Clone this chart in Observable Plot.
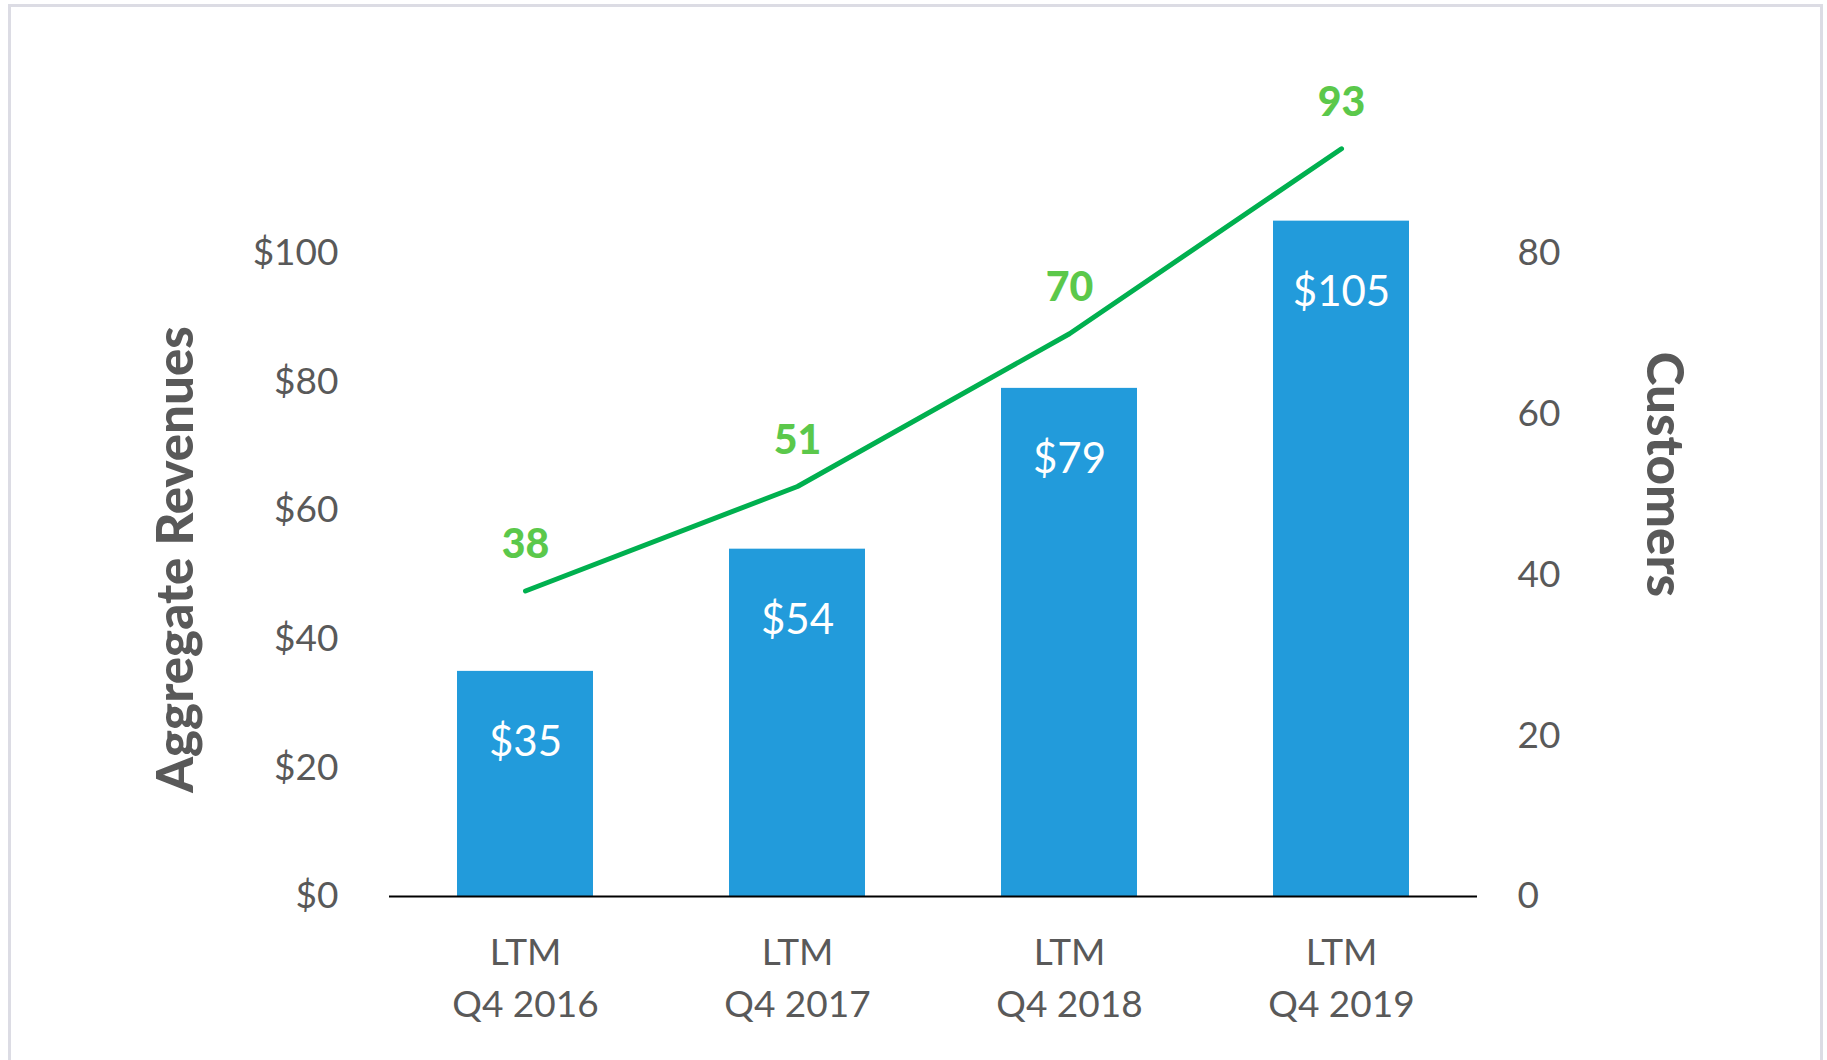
<!DOCTYPE html>
<html>
<head>
<meta charset="utf-8">
<script src="https://cdn.jsdelivr.net/npm/d3@7"></script>
<script src="https://cdn.jsdelivr.net/npm/@observablehq/plot@0.6"></script>
<style>
  html, body { margin: 0; padding: 0; background: #fff; overflow: hidden; }
  #wrap { position: relative; width: 1827px; height: 1060px; }
  #frame { position: absolute; left: 8px; top: 4px; width: 1815px; height: 1100px;
           border: 3px solid #dcdce4; box-sizing: border-box; pointer-events: none; }
  svg { display: block; }
</style>
</head>
<body>
<div id="wrap"><div id="chart"></div><div id="frame"></div></div>
<script>
const periods = ["Q4 2016", "Q4 2017", "Q4 2018", "Q4 2019"];
const periodPrefix = "LTM";
const revenues = [35, 54, 79, 105];
const customers = [38, 51, 70, 93];
const revenueTicks = [0, 20, 40, 60, 80, 100];
const customerTicks = [0, 20, 40, 60, 80];
const leftTitle = "Aggregate Revenues";
const rightTitle = "Customers";

// left axis max ($125) corresponds to right axis max (100 customers)
const revenueMax = 125, customerMax = 100;
const k = revenueMax / customerMax;

const table = periods.map((p, i) => ({period: p, revenue: revenues[i], customers: customers[i]}));

const font = "Lato, 'Open Sans', sans-serif";
const gray = "#595959";

const chart = Plot.plot({
  width: 1827,
  height: 1060,
  marginLeft: 389,
  marginRight: 350,
  marginTop: 92,
  marginBottom: 164,
  style: {fontFamily: font, color: gray, background: "transparent"},
  x: {domain: periods, paddingInner: 0.5, paddingOuter: 0.25},
  y: {domain: [0, revenueMax]},
  marks: [
    Plot.barY(table, {x: "period", y: "revenue", fill: "#229bdb"}),
    Plot.ruleY([0], {stroke: "#000", strokeWidth: 2}),
    Plot.lineY(table, {x: "period", y: d => d.customers * k, stroke: "#00b04f", strokeWidth: 5, strokeLinecap: "round"}),
    Plot.text(table, {x: "period", y: "revenue", text: d => "$" + d.revenue, dy: 71, fill: "#fff", fontSize: 42}),
    Plot.text(table, {x: "period", y: d => d.customers * k, text: d => String(d.customers), dy: -46, fill: "#5bc84b", fontSize: 41, fontWeight: 900}),
    Plot.axisY({anchor: "left", ticks: revenueTicks, tickFormat: d => "$" + d, tickSize: 0, tickPadding: 51, fontSize: 37, label: null}),
    Plot.axisY({anchor: "right", ticks: customerTicks.map(c => c * k), tickFormat: d => String(Math.round(d / k)), tickSize: 0, tickPadding: 40, fontSize: 37, label: null}),
    Plot.axisX({tickSize: 0, tickPadding: 32, tickFormat: d => periodPrefix + "\n" + d, lineHeight: 1.4, fontSize: 37, label: null}),
    Plot.text([leftTitle], {frameAnchor: "left", textAnchor: "middle", dx: 176 - 389, dy: 559 - 494, rotate: -90, fontSize: 51, fontWeight: 900, fill: gray}),
    Plot.text([rightTitle], {frameAnchor: "right", textAnchor: "middle", dx: 1663 - 1477, dy: 474 - 494, rotate: 90, fontSize: 51, fontWeight: 900, fill: gray})
  ]
});
document.getElementById("chart").appendChild(chart);
</script>
</body>
</html>
